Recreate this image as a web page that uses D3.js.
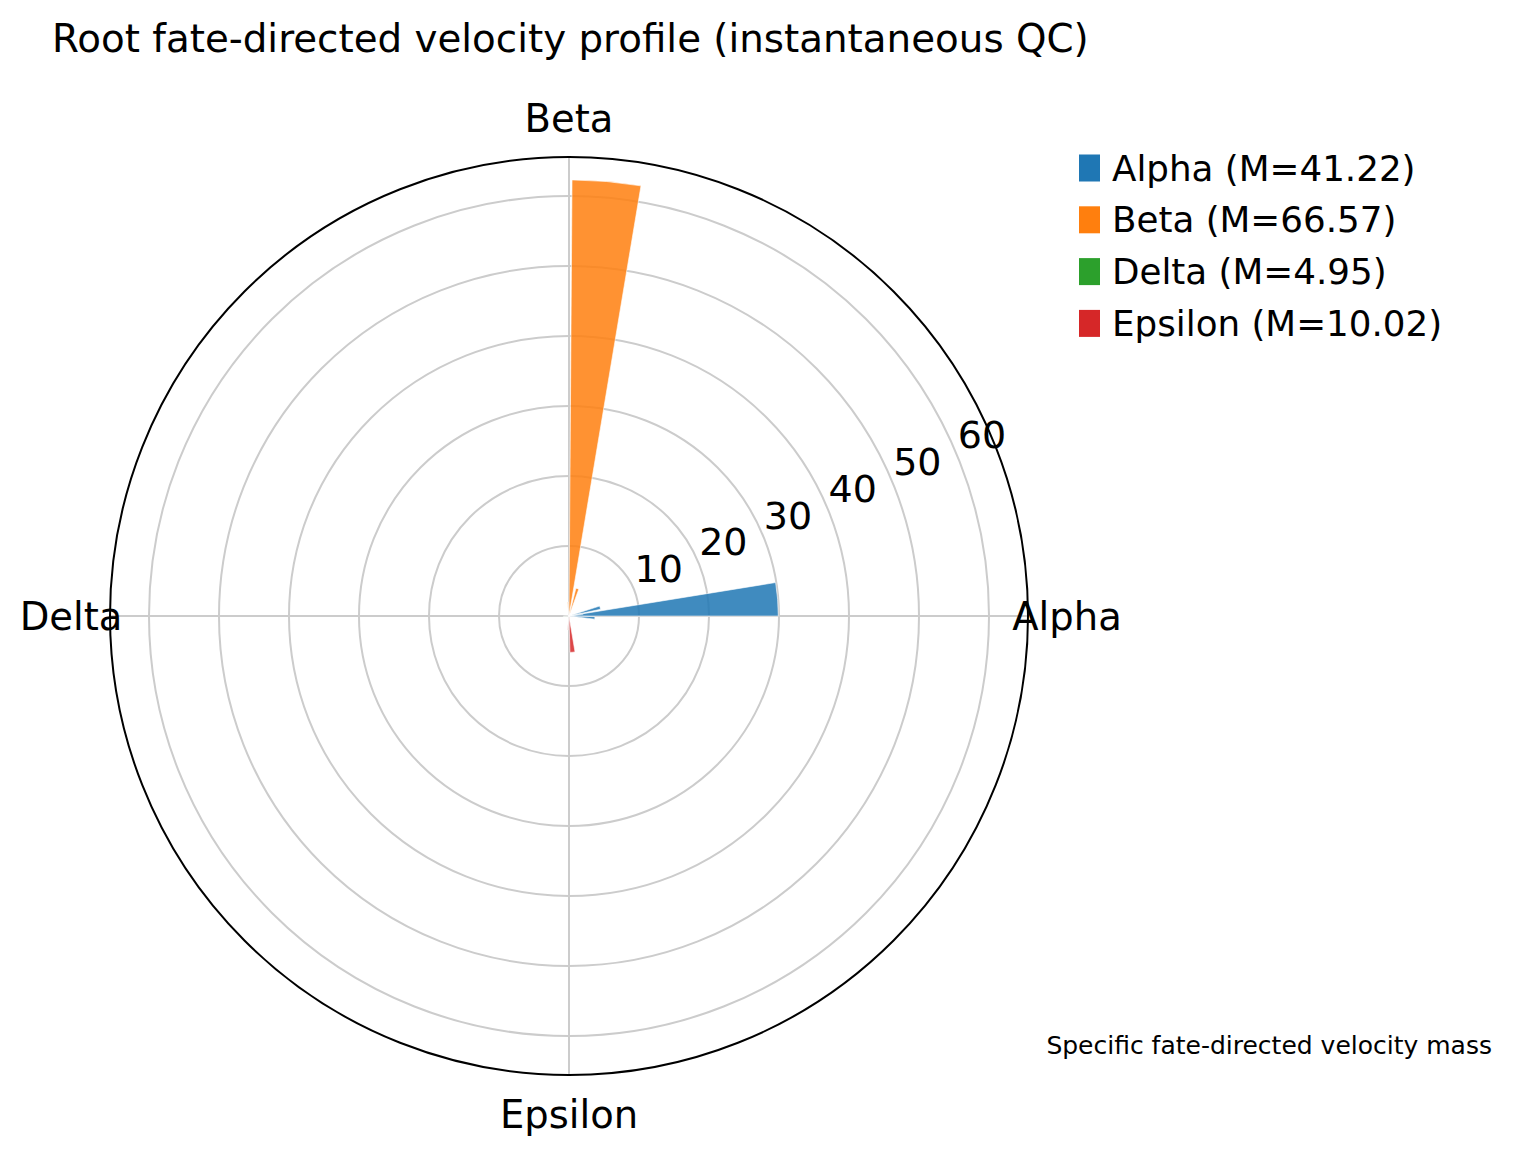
<!DOCTYPE html>
<html>
<head>
<meta charset="utf-8">
<script src="https://cdn.jsdelivr.net/npm/d3@7"></script>
<style>
  body { margin: 0; background: #fff; }
  svg { display: block; font-family: "DejaVu Sans", sans-serif; }
</style>
</head>
<body>
<div id="chart"></div>
<script>
// categories and their directions (deg, counter-clockwise from east)
const categories = ["Alpha", "Beta", "Delta", "Epsilon"];
const categoryAngles = [0, 90, 180, 270];
const categoryMeans = [41.22, 66.57, 4.95, 10.02];
const colors = ["#1f77b4", "#ff7f0e", "#2ca02c", "#d62728"];

// individual wedges
const barCategory = ["Alpha", "Alpha", "Alpha", "Alpha", "Beta", "Beta", "Beta", "Delta", "Epsilon", "Epsilon"];
const barAngle    = [4.6, 15, -4.2, 9, 85.05, 73, 95, 183, 275.5, 265];
const barWidth    = [9.2, 6, 5.5, 4, 9.1, 6, 5, 5, 8, 4];
const barValue    = [29.9, 4.6, 3.7, 2.0, 62.3, 4.1, 2.0, 0.8, 5.2, 2.0];
const barOpacity  = [0.85, 0.85, 0.85, 0.35, 0.85, 0.85, 0.4, 0.4, 0.85, 0.4];

const radialTicks = [10, 20, 30, 40, 50, 60];
const rMax = 65.57;

const title = "Root fate-directed velocity profile (instantaneous QC)";
const footnote = "Specific fate-directed velocity mass";

const W = 1513, H = 1153;
const cx = 569, cy = 616, outerR = 459;

const svg = d3.select("#chart").append("svg")
  .attr("width", W).attr("height", H);

const r = d3.scaleLinear().domain([0, rMax]).range([0, outerR]);
const color = d3.scaleOrdinal().domain(categories).range(colors);
// matplotlib angle (deg, ccw from east) -> d3 angle (rad, cw from north)
const toD3 = deg => (90 - deg) * Math.PI / 180;

const g = svg.append("g").attr("transform", `translate(${cx},${cy})`);

// grid rings
g.selectAll(".ring").data(radialTicks).join("circle")
  .attr("class", "ring")
  .attr("r", d => r(d))
  .attr("fill", "none")
  .attr("stroke", "#cccccc")
  .attr("stroke-width", 2);

// spokes
g.selectAll(".spoke").data(categoryAngles).join("line")
  .attr("class", "spoke")
  .attr("x1", 0).attr("y1", 0)
  .attr("x2", d => outerR * Math.cos(d * Math.PI / 180))
  .attr("y2", d => -outerR * Math.sin(d * Math.PI / 180))
  .attr("stroke", "#cccccc")
  .attr("stroke-width", 2);

// bars
const bars = barValue.map((v, i) => ({
  cat: barCategory[i], angle: barAngle[i], width: barWidth[i], value: v, opacity: barOpacity[i]
}));

const arc = d3.arc()
  .innerRadius(0)
  .outerRadius(d => r(d.value))
  .startAngle(d => toD3(d.angle + d.width / 2))
  .endAngle(d => toD3(d.angle - d.width / 2));

g.selectAll(".bar").data(bars).join("path")
  .attr("class", "bar")
  .attr("d", arc)
  .attr("fill", d => color(d.cat))
  .attr("fill-opacity", d => d.opacity)
  .attr("stroke", "#ffffff")
  .attr("stroke-width", 0.6);

// outer frame
g.append("circle")
  .attr("r", outerR)
  .attr("fill", "none")
  .attr("stroke", "#000")
  .attr("stroke-width", 2);

// category labels
const labelR = outerR + 39;
g.selectAll(".catlabel").data(categories).join("text")
  .attr("class", "catlabel")
  .attr("x", (d, i) => labelR * Math.cos(categoryAngles[i] * Math.PI / 180))
  .attr("y", (d, i) => -labelR * Math.sin(categoryAngles[i] * Math.PI / 180))
  .attr("text-anchor", "middle")
  .attr("dominant-baseline", "central")
  .attr("font-size", 38.5)
  .text(d => d);

// radial tick labels at 22.5 deg
const la = 22.5 * Math.PI / 180;
g.selectAll(".rlabel").data(radialTicks).join("text")
  .attr("class", "rlabel")
  .attr("x", d => r(d) * Math.cos(la) + 25)
  .attr("y", d => -r(d) * Math.sin(la) - 20)
  .attr("text-anchor", "middle")
  .attr("dominant-baseline", "central")
  .attr("font-size", 38)
  .text(d => d);

// title
svg.append("text")
  .attr("x", 52).attr("y", 52)
  .attr("font-size", 38.8)
  .text(title);

// legend
const legend = svg.append("g").attr("transform", "translate(1079,168)");
const rows = legend.selectAll(".row").data(categories).join("g")
  .attr("class", "row")
  .attr("transform", (d, i) => `translate(0,${i * 51.8})`);
rows.append("rect")
  .attr("x", 0).attr("y", -13.5)
  .attr("width", 21).attr("height", 27)
  .attr("fill", d => color(d));
rows.append("text")
  .attr("x", 33).attr("y", 0)
  .attr("dominant-baseline", "central")
  .attr("font-size", 35.7)
  .text((d, i) => `${d} (M=${categoryMeans[i].toFixed(2)})`);

// footnote
svg.append("text")
  .attr("x", 1492).attr("y", 1045)
  .attr("text-anchor", "end")
  .attr("dominant-baseline", "central")
  .attr("font-size", 25)
  .text(footnote);
</script>
</body>
</html>
